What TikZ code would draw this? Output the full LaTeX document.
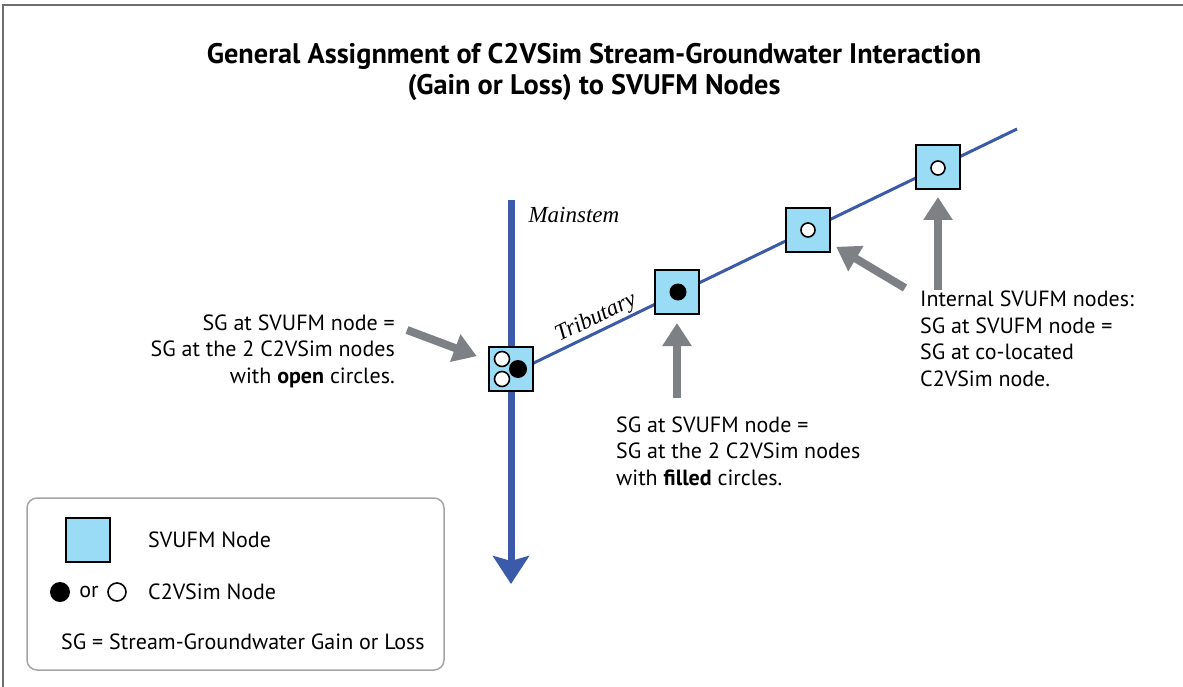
\documentclass[tikz,border=0pt]{standalone}
\usepackage{fontspec}
\setsansfont{PT Sans}
\newfontfamily\streamfont{Liberation Serif}
\usepackage{xcolor}
\usepackage{tikz}
\usetikzlibrary{arrows.meta}
\definecolor{riverblue}{RGB}{59,91,170}
\definecolor{nodeblue}{RGB}{154,219,245}
\definecolor{arrowgray}{RGB}{125,128,132}
\definecolor{framegray}{RGB}{110,110,110}
\definecolor{boxgray}{RGB}{165,165,165}
\newcommand{\sgtext}{\fontsize{22}{26.5}\selectfont\sffamily}
\newcommand{\rivertext}{\fontsize{23}{23}\selectfont\streamfont\itshape}

\begin{document}
\begin{tikzpicture}[x=1pt,y=-1pt,
  svufm/.style={draw=black,line width=2pt,fill=nodeblue,minimum size=44pt,inner sep=0pt},
  openc/.style={circle,draw=black,line width=1.6pt,fill=white,minimum size=14pt,inner sep=0pt},
  fillc/.style={circle,fill=black,minimum size=18pt,inner sep=0pt},
  pointer/.style={draw=arrowgray,line width=8pt,-{Triangle[length=23pt,width=28pt]}},
  note/.style={font=\sgtext,inner sep=0pt},
  river/.style={draw=riverblue}]
  \useasboundingbox (0,0) rectangle (1183,687);
  \draw[framegray,line width=2pt] (3,687) -- (3,5) -- (1183,5);
  \node[font=\fontsize{28.3}{31}\selectfont\sffamily\bfseries,align=center] (title) at (594,72)
    {General Assignment of C2VSim Stream-Groundwater Interaction\\(Gain or Loss) to SVUFM Nodes};
  % streams first, the nodes sit on top
  \coordinate (ms top) at (511,200);
  \coordinate (ms end) at (511,584);
  \coordinate (trib start) at (511,374);
  \coordinate (trib end) at (1017,129);
  \draw[river,line width=3pt] (trib start) -- (trib end);
  \draw[river,line width=7pt,-{Stealth[length=28pt,width=36pt,inset=5pt]}] (ms top) -- (ms end);
  \node[font=\rivertext,anchor=west] (mainstem) at (525,215) {Mainstem};
  \node[font=\rivertext,rotate=26] (tributary) at (596,318) {Tributary};
  \node[svufm] (sv1) at (511,369) {};
  \node[svufm] (sv2) at (677,292) {};
  \node[svufm] (sv3) at (808,230) {};
  \node[svufm] (sv4) at (938,167) {};
  \node[openc,minimum size=15pt] (o1) at (502,359) {};
  \node[openc,minimum size=15pt] (o2) at (502,379) {};
  \node[fillc] (f1) at (518,369) {};
  \node[fillc,minimum size=17pt] (f2) at (678,292) {};
  \node[openc] (o3) at (808,230) {};
  \node[openc] (o4) at (938,168) {};
  % notes and pointers
  \node[note,align=right,anchor=east] (note open) at (395,351)
    {SG at SVUFM node =\\SG at the 2 C2VSim nodes\\with \textbf{open} circles.};
  \coordinate (p1) at (407,330);
  \draw[pointer,shorten >=12pt] (p1) -- (sv1);
  \node[note,align=left,anchor=west] (note filled) at (616,451)
    {SG at SVUFM node =\\SG at the 2 C2VSim nodes\\with \textbf{filled} circles.};
  \coordinate (p2) at (677,398);
  \draw[pointer,shorten >=8pt] (p2) -- (sv2);
  \node[note,align=left,anchor=west] (note internal) at (920,339)
    {Internal SVUFM nodes:\\SG at SVUFM node =\\SG at co-located\\C2VSim node.};
  \coordinate (p3) at (905,288);
  \draw[pointer,shorten >=6pt] (p3) -- (sv3);
  \coordinate (p4) at (938,290);
  \draw[pointer,shorten >=7pt] (p4) -- (sv4);
  % legend
  \draw[boxgray,line width=1.5pt,rounded corners=10pt] (27,498) rectangle (444,670);
  \node[svufm] (key sv) at (88,540) {};
  \node[note,anchor=west] (key sv text) at (148,540) {SVUFM Node};
  \node[fillc,minimum size=20pt] (key f) at (60,592) {};
  \node[note] (key or) at (89,592) {or};
  \node[openc,minimum size=18pt] (key o) at (117,592) {};
  \node[note,anchor=west] (key c2 text) at (148,592) {C2VSim Node};
  \node[note,anchor=west] (key sg) at (61,642) {SG = Stream-Groundwater Gain or Loss};
\end{tikzpicture}
\end{document}
